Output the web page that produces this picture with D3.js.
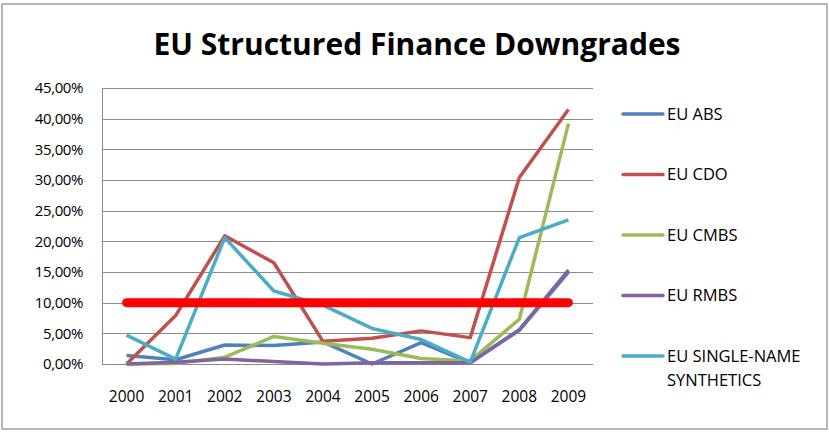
<!DOCTYPE html>
<html>
<head>
<meta charset="utf-8">
<script src="https://cdn.jsdelivr.net/npm/d3@7"></script>
<style>
  body { margin: 0; background: #fff; }
  text { font-family: "Open Sans", sans-serif; fill: #000; }
</style>
</head>
<body>
<script>
var width = 829,
    height = 436;

var years = ["2000", "2001", "2002", "2003", "2004", "2005", "2006", "2007", "2008", "2009"];
var seriesNames = ["EU ABS", "EU CDO", "EU CMBS", "EU RMBS", "EU SINGLE-NAME SYNTHETICS"];
var colors = ["#4F81BD", "#C0504D", "#9BBB59", "#8064A2", "#4BACC6"];

var absVals   = [1.4, 0.7, 3.1, 3.0, 3.6, 0.0, 3.5, 0.2, 5.5, 15.0];
var cdoVals   = [0.0, 7.9, 20.9, 16.5, 3.7, 4.2, 5.4, 4.3, 30.4, 41.5];
var cmbsVals  = [0.0, 0.1, 1.1, 4.5, 3.4, 2.4, 0.9, 0.5, 7.3, 39.2];
var rmbsVals  = [0.0, 0.3, 0.8, 0.4, 0.0, 0.2, 0.2, 0.2, 5.6, 15.3];
var synthVals = [4.7, 0.8, 20.6, 11.9, 9.6, 5.8, 4.0, 0.3, 20.6, 23.5];
var threshold = 10;

var yTicks = [0, 5, 10, 15, 20, 25, 30, 35, 40, 45];

var series = [absVals, cdoVals, cmbsVals, rmbsVals, synthVals].map(function(v, i) {
    return { name: seriesNames[i], color: colors[i], values: v };
});

var svg = d3.select("body").append("svg")
    .attr("width", width)
    .attr("height", height);

// outer chart border
svg.append("rect")
    .attr("x", 2).attr("y", 4)
    .attr("width", 825).attr("height", 425)
    .attr("fill", "#fff")
    .attr("stroke", "#a0a0a0")
    .attr("stroke-width", 1.5);

svg.append("text")
    .attr("x", 417).attr("y", 55)
    .attr("text-anchor", "middle")
    .style("font-size", "30px")
    .style("font-weight", "bold")
    .text("EU Structured Finance Downgrades");

var x = d3.scalePoint()
    .domain(years)
    .range([102, 593])
    .padding(0.5);

var y = d3.scaleLinear()
    .domain([0, 45])
    .range([364, 88]);

// gridlines
svg.append("g")
    .selectAll("line")
    .data(yTicks)
    .enter().append("line")
    .attr("x1", 102).attr("x2", 593)
    .attr("y1", function(d) { return Math.round(y(d)) + 0.5; })
    .attr("y2", function(d) { return Math.round(y(d)) + 0.5; })
    .attr("stroke", "#8a8a8a")
    .attr("stroke-width", 1);

svg.append("line")
    .attr("x1", 102.5).attr("x2", 102.5)
    .attr("y1", y(45)).attr("y2", y(0) + 1)
    .attr("stroke", "#8a8a8a");

// y labels
svg.append("g")
    .selectAll("text")
    .data(yTicks)
    .enter().append("text")
    .attr("x", 83)
    .attr("y", function(d) { return y(d); })
    .attr("dy", "0.35em")
    .attr("text-anchor", "end")
    .style("font-size", "15px")
    .style("letter-spacing", "-0.4px")
    .text(function(d) { return d.toFixed(2).replace(".", ",") + "%"; });

// x labels
svg.append("g")
    .selectAll("text")
    .data(years)
    .enter().append("text")
    .attr("x", function(d) { return x(d); })
    .attr("y", 402)
    .attr("text-anchor", "middle")
    .style("font-size", "15.5px")
    .text(function(d) { return d; });

var line = d3.line()
    .x(function(d, i) { return x(years[i]); })
    .y(function(d) { return y(d); });

svg.append("g")
    .selectAll("path")
    .data(series)
    .enter().append("path")
    .attr("d", function(d) { return line(d.values); })
    .attr("fill", "none")
    .attr("stroke", function(d) { return d.color; })
    .attr("stroke-width", 3.5)
    .attr("stroke-linejoin", "round");

// 10% threshold
svg.append("path")
    .attr("d", line(years.map(function() { return threshold; })))
    .attr("fill", "none")
    .attr("stroke", "#ff0000")
    .attr("stroke-width", 9)
    .attr("stroke-linecap", "round");

// legend
var legend = svg.append("g")
    .selectAll("g")
    .data(series)
    .enter().append("g")
    .attr("transform", function(d, i) { return "translate(623," + (114 + i * 60.5) + ")"; });

legend.append("line")
    .attr("x1", 0).attr("x2", 40)
    .attr("stroke", function(d) { return d.color; })
    .attr("stroke-width", 3.5)
    .attr("stroke-linecap", "round");

legend.append("text")
    .style("font-size", "16.5px")
    .each(function(d) {
        var t = d3.select(this);
        var parts = d.name === "EU SINGLE-NAME SYNTHETICS" ? ["EU SINGLE-NAME", "SYNTHETICS"] : [d.name];
        parts.forEach(function(p, j) {
            t.append("tspan").attr("x", 44).attr("dy", j === 0 ? "0.35em" : "1.45em").text(p);
        });
    });
</script>
</body>
</html>
